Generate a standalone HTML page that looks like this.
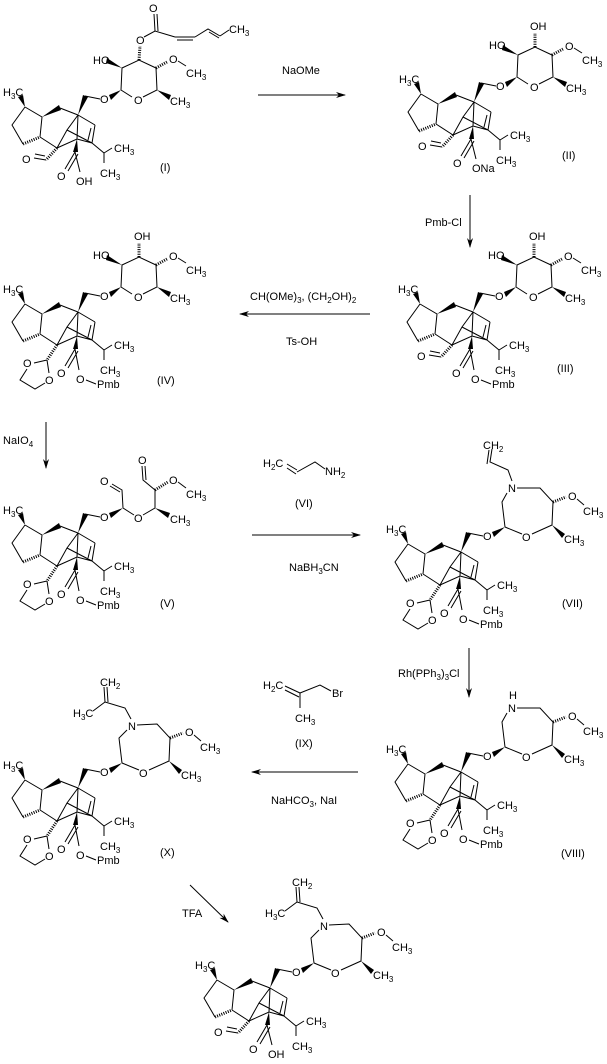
<!DOCTYPE html>
<html><head><meta charset="utf-8"><style>
html,body{margin:0;padding:0;background:#fff}
svg{display:block}
text{font-family:"Liberation Sans",sans-serif;font-size:11px;fill:#000}
.s{font-size:8px}
path{fill:none;stroke:#000;stroke-width:1}
.h{stroke-dasharray:1,1.3;stroke-width:3}
polygon{fill:#000;stroke:none}
</style></head><body>
<svg width="607" height="1064" viewBox="0 0 607 1064" xmlns="http://www.w3.org/2000/svg">
<defs>
<marker id="ah" markerWidth="10" markerHeight="8" refX="9" refY="4" orient="auto" markerUnits="userSpaceOnUse"><polygon points="0,1 10,4 0,7 3,4"/></marker>
</defs>

<!-- ===== Compound I ===== -->
<g transform="translate(0,0)">
<path d="M25,107L12,125L23,144 M40,137L42,117L25,107 M60,108L78,115 M85,96L100,99 M40,137L57,148 M78,115L95,125 M92,143L77,139L57,148 M57,148L67,130L78,115 M67,130L92,143 M77,139L78,115 M104,153L92,143 M104,153L112,148 M104,153L104,163 M95,125L92,143 M91,128L88,140"/>
<path class="h" d="M23,144L40,137"/>
<polygon points="25,107 18,97 23,95"/><polygon points="42,117 59,105 61,110"/><polygon points="78,115 83,95 88,97"/><polygon points="77,139 73,152 78,152"/>
<text x="3" y="96">H<tspan class="s" dy="3">3</tspan><tspan dy="-3">C</tspan></text>
<text x="100" y="103">O</text>
<text x="114" y="152">CH<tspan class="s" dy="3">3</tspan></text>
<text x="100" y="177">CH<tspan class="s" dy="3">3</tspan></text>
<path class="h" d="M57,148L46,160"/>
<path d="M46,160L34,158 M45,156L35,154 M75,152L65,169 M78,154L68,171 M75,152L80,172"/>
<text x="57" y="180">O</text><text x="76" y="185">OH</text>
<text x="22" y="163">O</text>
<path d="M121,90L122,68L139,60L156,68L157,90L143,97 M132,97L121,90"/>
<polygon points="121,90 109,95 111,100"/><polygon points="122,68 107,58 106,63"/><polygon points="157,90 171,95 169,100"/>
<path class="h" d="M139,60L140,46 M156,68L167,62"/>
<text x="134" y="104">O</text>
<text x="93" y="64">HO</text>
<text x="136" y="44">O</text>
<text x="169" y="63">O</text><path d="M178,61L186,66"/>
<text x="186" y="77">CH<tspan class="s" dy="3">3</tspan></text>
<text x="170" y="105">CH<tspan class="s" dy="3">3</tspan></text>
<path d="M144,37L155,31L175,37 M155,31L154,14 M158,31L157,14 M175,37L195,37 M177,40L193,40 M195,37L208,29L220,36 M209,32L219,38 M220,36L229,30"/>
<text x="149" y="12">O</text>
<text x="229" y="33">CH<tspan class="s" dy="3">3</tspan></text>
<text x="160" y="171">(I)</text>
</g>

<path d="M258,95L345,95" marker-end="url(#ah)"/>
<text x="282" y="74">NaOMe</text>

<!-- ===== Compound II ===== -->
<g transform="translate(396,-13)">
<path d="M25,107L12,125L23,144 M40,137L42,117L25,107 M60,108L78,115 M85,96L100,99 M40,137L57,148 M78,115L95,125 M92,143L77,139L57,148 M57,148L67,130L78,115 M67,130L92,143 M77,139L78,115 M104,153L92,143 M104,153L112,148 M104,153L104,163 M95,125L92,143 M91,128L88,140"/>
<path class="h" d="M23,144L40,137"/>
<polygon points="25,107 18,97 23,95"/><polygon points="42,117 59,105 61,110"/><polygon points="78,115 83,95 88,97"/><polygon points="77,139 73,152 78,152"/>
<text x="3" y="96">H<tspan class="s" dy="3">3</tspan><tspan dy="-3">C</tspan></text>
<text x="100" y="103">O</text>
<text x="114" y="152">CH<tspan class="s" dy="3">3</tspan></text>
<text x="100" y="177">CH<tspan class="s" dy="3">3</tspan></text>
<path class="h" d="M57,148L46,160"/>
<path d="M46,160L34,158 M45,156L35,154 M75,152L65,169 M78,154L68,171 M75,152L80,172"/>
<text x="22" y="163">O</text><text x="57" y="180">O</text><text x="76" y="185">ONa</text>
<path d="M121,90L122,68L139,60L156,68L157,90L143,97 M132,97L121,90"/>
<polygon points="121,90 109,95 111,100"/><polygon points="122,68 107,58 106,63"/><polygon points="157,90 171,95 169,100"/>
<path class="h" d="M139,60L139,46 M156,68L167,62"/>
<text x="134" y="104">O</text>
<text x="93" y="62">HO</text>
<text x="134" y="43">OH</text>
<text x="169" y="63">O</text><path d="M178,61L186,66"/>
<text x="186" y="77">CH<tspan class="s" dy="3">3</tspan></text>
<text x="170" y="105">CH<tspan class="s" dy="3">3</tspan></text>
<text x="166" y="172">(II)</text>
</g>

<path d="M470,195L470,247" marker-end="url(#ah)"/>
<text x="425" y="226">Pmb-Cl</text>

<!-- ===== Compound III ===== -->
<g transform="translate(395,197)">
<path d="M25,107L12,125L23,144 M40,137L42,117L25,107 M60,108L78,115 M85,96L100,99 M40,137L57,148 M78,115L95,125 M92,143L77,139L57,148 M57,148L67,130L78,115 M67,130L92,143 M77,139L78,115 M104,153L92,143 M104,153L112,148 M104,153L104,163 M95,125L92,143 M91,128L88,140"/>
<path class="h" d="M23,144L40,137"/>
<polygon points="25,107 18,97 23,95"/><polygon points="42,117 59,105 61,110"/><polygon points="78,115 83,95 88,97"/><polygon points="77,139 73,152 78,152"/>
<text x="3" y="96">H<tspan class="s" dy="3">3</tspan><tspan dy="-3">C</tspan></text>
<text x="100" y="103">O</text>
<text x="114" y="152">CH<tspan class="s" dy="3">3</tspan></text>
<text x="100" y="177">CH<tspan class="s" dy="3">3</tspan></text>
<path class="h" d="M57,148L46,160"/>
<path d="M46,160L34,158 M45,156L35,154 M75,152L65,169 M78,154L68,171 M75,152L79,173 M86,183L96,187"/>
<text x="22" y="163">O</text><text x="57" y="180">O</text><text x="76" y="186">O</text><text x="97" y="191">Pmb</text>
<path d="M121,90L122,68L139,60L156,68L157,90L143,97 M132,97L121,90"/>
<polygon points="121,90 109,95 111,100"/><polygon points="122,68 107,58 106,63"/><polygon points="157,90 171,95 169,100"/>
<path class="h" d="M139,60L139,46 M156,68L167,62"/>
<text x="134" y="104">O</text>
<text x="93" y="62">HO</text>
<text x="134" y="43">OH</text>
<text x="169" y="63">O</text><path d="M178,61L186,66"/>
<text x="186" y="77">CH<tspan class="s" dy="3">3</tspan></text>
<text x="170" y="105">CH<tspan class="s" dy="3">3</tspan></text>
<text x="162" y="175">(III)</text>
</g>

<path d="M370,314L240,314" marker-end="url(#ah)"/>
<text x="250" y="300">CH(OMe)<tspan class="s" dy="3">3</tspan><tspan dy="-3">, (CH</tspan><tspan class="s" dy="3">2</tspan><tspan dy="-3">OH)</tspan><tspan class="s" dy="3">2</tspan></text>
<text x="286" y="345">Ts-OH</text>

<!-- ===== Compound IV ===== -->
<g transform="translate(0,197)">
<path d="M25,107L12,125L23,144 M40,137L42,117L25,107 M60,108L78,115 M85,96L100,99 M40,137L57,148 M78,115L95,125 M92,143L77,139L57,148 M57,148L67,130L78,115 M67,130L92,143 M77,139L78,115 M104,153L92,143 M104,153L112,148 M104,153L104,163 M95,125L92,143 M91,128L88,140"/>
<path class="h" d="M23,144L40,137"/>
<polygon points="25,107 18,97 23,95"/><polygon points="42,117 59,105 61,110"/><polygon points="78,115 83,95 88,97"/><polygon points="77,139 73,152 78,152"/>
<text x="3" y="96">H<tspan class="s" dy="3">3</tspan><tspan dy="-3">C</tspan></text>
<text x="100" y="103">O</text>
<text x="114" y="152">CH<tspan class="s" dy="3">3</tspan></text>
<text x="100" y="177">CH<tspan class="s" dy="3">3</tspan></text>
<path class="h" d="M57,148L47,163"/>
<path d="M47,163L34,166 M47,163L49,176 M27,172L20,183L35,192L45,186 M75,152L65,169 M78,154L68,171 M75,152L79,173 M86,183L96,187"/>
<text x="23" y="170">O</text><text x="45" y="187">O</text>
<text x="57" y="180">O</text><text x="76" y="186">O</text><text x="97" y="191">Pmb</text>
<path d="M121,90L122,68L139,60L156,68L157,90L143,97 M132,97L121,90"/>
<polygon points="121,90 109,95 111,100"/><polygon points="122,68 107,58 106,63"/><polygon points="157,90 171,95 169,100"/>
<path class="h" d="M139,60L139,46 M156,68L167,62"/>
<text x="134" y="104">O</text>
<text x="93" y="62">HO</text>
<text x="134" y="43">OH</text>
<text x="169" y="63">O</text><path d="M178,61L186,66"/>
<text x="186" y="77">CH<tspan class="s" dy="3">3</tspan></text>
<text x="170" y="105">CH<tspan class="s" dy="3">3</tspan></text>
<text x="157" y="187">(IV)</text>
</g>

<path d="M46,422L46,468" marker-end="url(#ah)"/>
<text x="3" y="444">NaIO<tspan class="s" dy="3">4</tspan></text>

<!-- ===== Compound V ===== -->
<g transform="translate(0,418)">
<path d="M25,107L12,125L23,144 M40,137L42,117L25,107 M60,108L78,115 M85,96L100,99 M40,137L57,148 M78,115L95,125 M92,143L77,139L57,148 M57,148L67,130L78,115 M67,130L92,143 M77,139L78,115 M104,153L92,143 M104,153L112,148 M104,153L104,163 M95,125L92,143 M91,128L88,140"/>
<path class="h" d="M23,144L40,137"/>
<polygon points="25,107 18,97 23,95"/><polygon points="42,117 59,105 61,110"/><polygon points="78,115 83,95 88,97"/><polygon points="77,139 73,152 78,152"/>
<text x="3" y="96">H<tspan class="s" dy="3">3</tspan><tspan dy="-3">C</tspan></text>
<text x="100" y="103">O</text>
<text x="114" y="152">CH<tspan class="s" dy="3">3</tspan></text>
<text x="100" y="177">CH<tspan class="s" dy="3">3</tspan></text>
<path class="h" d="M57,148L47,163"/>
<path d="M47,163L34,166 M47,163L49,176 M27,172L20,183L35,192L45,186 M75,152L65,169 M78,154L68,171 M75,152L79,173 M86,183L96,187"/>
<text x="23" y="170">O</text><text x="45" y="187">O</text>
<text x="57" y="180">O</text><text x="76" y="186">O</text><text x="97" y="191">Pmb</text>
<polygon points="123,90 109,95 111,100"/>
<path d="M123,90L122,72L112,66 M120,74L110,68 M123,90L134,97 M143,97L155,90L155,72L143,62L142,48 M146,62L145,48"/>
<polygon points="155,90 170,95 168,100"/>
<path class="h" d="M155,72L168,64"/>
<text x="100" y="67">O</text>
<text x="134" y="104">O</text>
<text x="138" y="46">O</text>
<text x="169" y="66">O</text><path d="M178,64L186,70"/>
<text x="186" y="80">CH<tspan class="s" dy="3">3</tspan></text>
<text x="170" y="105">CH<tspan class="s" dy="3">3</tspan></text>
<text x="160" y="189">(V)</text>
</g>

<text x="263" y="467">H<tspan class="s" dy="3">2</tspan><tspan dy="-3">C</tspan></text>
<path d="M287,464L297,470 M287,468L296,474 M297,472L315,462L325,469"/>
<text x="325" y="475">NH<tspan class="s" dy="3">2</tspan></text>
<text x="295" y="507">(VI)</text>
<path d="M252,535L360,535" marker-end="url(#ah)"/>
<text x="289" y="571">NaBH<tspan class="s" dy="3">3</tspan><tspan dy="-3">CN</tspan></text>

<!-- ===== Compound VII ===== -->
<g transform="translate(383,437)">
<path d="M25,107L12,125L23,144 M40,137L42,117L25,107 M60,108L78,115 M85,96L100,99 M40,137L57,148 M78,115L95,125 M92,143L77,139L57,148 M57,148L67,130L78,115 M67,130L92,143 M77,139L78,115 M104,153L92,143 M104,153L112,148 M104,153L104,163 M95,125L92,143 M91,128L88,140"/>
<path class="h" d="M23,144L40,137"/>
<polygon points="25,107 18,97 23,95"/><polygon points="42,117 59,105 61,110"/><polygon points="78,115 83,95 88,97"/><polygon points="77,139 73,152 78,152"/>
<text x="3" y="96">H<tspan class="s" dy="3">3</tspan><tspan dy="-3">C</tspan></text>
<text x="100" y="103">O</text>
<text x="114" y="152">CH<tspan class="s" dy="3">3</tspan></text>
<text x="100" y="177">CH<tspan class="s" dy="3">3</tspan></text>
<path class="h" d="M57,148L47,163"/>
<path d="M47,163L34,166 M47,163L49,176 M27,172L20,183L35,192L45,186 M75,152L65,169 M78,154L68,171 M75,152L79,173 M86,183L96,187"/>
<text x="23" y="170">O</text><text x="45" y="187">O</text>
<text x="57" y="180">O</text><text x="76" y="186">O</text><text x="97" y="191">Pmb</text>
<polygon points="122,90 109,95 111,100"/>
<path d="M122,90L119,65L124,56 M134,51L157,51L170,65L169,88L149,97 M139,97L122,90"/>
<polygon points="169,88 182,97 179,101"/>
<path class="h" d="M170,65L183,60"/>
<text x="125" y="55">N</text>
<text x="139" y="104">O</text>
<text x="185" y="63">O</text><path d="M194,62L201,68"/>
<text x="200" y="78">CH<tspan class="s" dy="3">3</tspan></text>
<text x="181" y="106">CH<tspan class="s" dy="3">3</tspan></text>
<path d="M129,44L125,33L107,25L109,12 M104,27L106,13"/>
<text x="100" y="12">CH<tspan class="s" dy="3">2</tspan></text>
<text x="179" y="170">(VII)</text>
</g>

<path d="M469,648L469,697" marker-end="url(#ah)"/>
<text x="398" y="677">Rh(PPh<tspan class="s" dy="3">3</tspan><tspan dy="-3">)</tspan><tspan class="s" dy="3">3</tspan><tspan dy="-3">Cl</tspan></text>

<!-- ===== Compound VIII ===== -->
<g transform="translate(383,657)">
<path d="M25,107L12,125L23,144 M40,137L42,117L25,107 M60,108L78,115 M85,96L100,99 M40,137L57,148 M78,115L95,125 M92,143L77,139L57,148 M57,148L67,130L78,115 M67,130L92,143 M77,139L78,115 M104,153L92,143 M104,153L112,148 M104,153L104,163 M95,125L92,143 M91,128L88,140"/>
<path class="h" d="M23,144L40,137"/>
<polygon points="25,107 18,97 23,95"/><polygon points="42,117 59,105 61,110"/><polygon points="78,115 83,95 88,97"/><polygon points="77,139 73,152 78,152"/>
<text x="3" y="96">H<tspan class="s" dy="3">3</tspan><tspan dy="-3">C</tspan></text>
<text x="100" y="103">O</text>
<text x="114" y="152">CH<tspan class="s" dy="3">3</tspan></text>
<text x="100" y="177">CH<tspan class="s" dy="3">3</tspan></text>
<path class="h" d="M57,148L47,163"/>
<path d="M47,163L34,166 M47,163L49,176 M27,172L20,183L35,192L45,186 M75,152L65,169 M78,154L68,171 M75,152L79,173 M86,183L96,187"/>
<text x="23" y="170">O</text><text x="45" y="187">O</text>
<text x="57" y="180">O</text><text x="76" y="186">O</text><text x="97" y="191">Pmb</text>
<polygon points="122,90 109,95 111,100"/>
<path d="M122,90L119,65L124,56 M134,51L157,51L170,65L169,88L149,97 M139,97L122,90"/>
<polygon points="169,88 182,97 179,101"/>
<path class="h" d="M170,65L183,60"/>
<text x="126" y="42">H</text>
<text x="125" y="55">N</text>
<text x="139" y="104">O</text>
<text x="185" y="63">O</text><path d="M194,62L201,68"/>
<text x="200" y="78">CH<tspan class="s" dy="3">3</tspan></text>
<text x="181" y="106">CH<tspan class="s" dy="3">3</tspan></text>
<text x="178" y="200">(VIII)</text>
</g>

<text x="263" y="689">H<tspan class="s" dy="3">2</tspan><tspan dy="-3">C</tspan></text>
<path d="M285,686L300,693 M285,690L299,697 M300,693L320,685L331,691 M300,693L300,708"/>
<text x="332" y="697">Br</text>
<text x="295" y="722">CH<tspan class="s" dy="3">3</tspan></text>
<text x="295" y="747">(IX)</text>
<path d="M358,772L252,772" marker-end="url(#ah)"/>
<text x="271" y="804">NaHCO<tspan class="s" dy="3">3</tspan><tspan dy="-3">,  NaI</tspan></text>

<!-- ===== Compound X ===== -->
<g transform="translate(0,673)">
<path d="M25,107L12,125L23,144 M40,137L42,117L25,107 M60,108L78,115 M85,96L100,99 M40,137L57,148 M78,115L95,125 M92,143L77,139L57,148 M57,148L67,130L78,115 M67,130L92,143 M77,139L78,115 M104,153L92,143 M104,153L112,148 M104,153L104,163 M95,125L92,143 M91,128L88,140"/>
<path class="h" d="M23,144L40,137"/>
<polygon points="25,107 18,97 23,95"/><polygon points="42,117 59,105 61,110"/><polygon points="78,115 83,95 88,97"/><polygon points="77,139 73,152 78,152"/>
<text x="3" y="96">H<tspan class="s" dy="3">3</tspan><tspan dy="-3">C</tspan></text>
<text x="100" y="103">O</text>
<text x="114" y="152">CH<tspan class="s" dy="3">3</tspan></text>
<text x="100" y="177">CH<tspan class="s" dy="3">3</tspan></text>
<path class="h" d="M57,148L47,163"/>
<path d="M47,163L34,166 M47,163L49,176 M27,172L20,183L35,192L45,186 M75,152L65,169 M78,154L68,171 M75,152L79,173 M86,183L96,187"/>
<text x="23" y="170">O</text><text x="45" y="187">O</text>
<text x="57" y="180">O</text><text x="76" y="186">O</text><text x="97" y="191">Pmb</text>
<polygon points="122,90 109,95 111,100"/>
<path d="M122,90L119,65L127,57 M137,52L157,51L170,65L169,88L149,97 M139,97L122,90"/>
<polygon points="169,88 182,97 179,101"/>
<path class="h" d="M170,65L183,60"/>
<text x="128" y="57">N</text>
<text x="139" y="104">O</text>
<text x="185" y="63">O</text><path d="M194,62L201,68"/>
<text x="200" y="78">CH<tspan class="s" dy="3">3</tspan></text>
<text x="181" y="106">CH<tspan class="s" dy="3">3</tspan></text>
<path d="M131,46L125,35L105,29L104,14 M108,29L107,14 M105,29L93,38"/>
<text x="100" y="13">CH<tspan class="s" dy="3">2</tspan></text>
<text x="73" y="44">H<tspan class="s" dy="3">3</tspan><tspan dy="-3">C</tspan></text>
<text x="160" y="183">(X)</text>
</g>

<path d="M190,885L228,922" marker-end="url(#ah)"/>
<text x="182" y="917">TFA</text>

<!-- ===== Final compound ===== -->
<g transform="translate(192,873)">
<path d="M25,107L12,125L23,144 M40,137L42,117L25,107 M60,108L78,115 M85,96L100,99 M40,137L57,148 M78,115L95,125 M92,143L77,139L57,148 M57,148L67,130L78,115 M67,130L92,143 M77,139L78,115 M104,153L92,143 M104,153L112,148 M104,153L104,163 M95,125L92,143 M91,128L88,140"/>
<path class="h" d="M23,144L40,137"/>
<polygon points="25,107 18,97 23,95"/><polygon points="42,117 59,105 61,110"/><polygon points="78,115 83,95 88,97"/><polygon points="77,139 73,152 78,152"/>
<text x="3" y="96">H<tspan class="s" dy="3">3</tspan><tspan dy="-3">C</tspan></text>
<text x="100" y="103">O</text>
<text x="114" y="152">CH<tspan class="s" dy="3">3</tspan></text>
<text x="100" y="177">CH<tspan class="s" dy="3">3</tspan></text>
<path class="h" d="M57,148L46,160"/>
<path d="M46,160L34,158 M45,156L35,154 M75,152L65,169 M78,154L68,171 M75,152L80,172"/>
<text x="22" y="163">O</text><text x="57" y="180">O</text><text x="76" y="185">OH</text>
<polygon points="122,90 109,95 111,100"/>
<path d="M122,90L119,65L127,57 M137,52L157,51L170,65L169,88L149,97 M139,97L122,90"/>
<polygon points="169,88 182,97 179,101"/>
<path class="h" d="M170,65L183,60"/>
<text x="128" y="57">N</text>
<text x="139" y="104">O</text>
<text x="185" y="63">O</text><path d="M194,62L201,68"/>
<text x="200" y="78">CH<tspan class="s" dy="3">3</tspan></text>
<text x="181" y="106">CH<tspan class="s" dy="3">3</tspan></text>
<path d="M131,46L125,35L105,29L104,14 M108,29L107,14 M105,29L93,38"/>
<text x="100" y="13">CH<tspan class="s" dy="3">2</tspan></text>
<text x="73" y="44">H<tspan class="s" dy="3">3</tspan><tspan dy="-3">C</tspan></text>
</g>
</svg>
</body></html>
